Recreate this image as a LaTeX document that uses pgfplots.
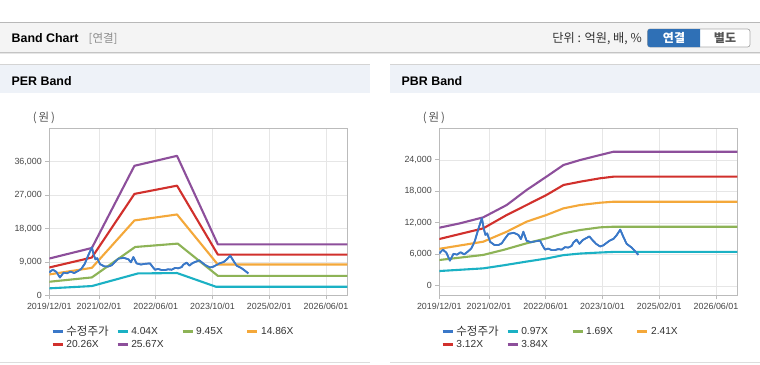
\documentclass[border=0pt]{standalone}
\usepackage{pgfplots}
\usepackage{pgfplotstable}
\pgfplotsset{compat=1.18}
\usepackage{fontspec}
\setmainfont{Liberation Sans}
\newfontfamily\kr{Noto Sans CJK KR}
\definecolor{cblue}{HTML}{3A78C8}
\definecolor{ccyan}{HTML}{1BB1C4}
\definecolor{cgreen}{HTML}{8DB356}
\definecolor{corange}{HTML}{F4A83A}
\definecolor{cred}{HTML}{D1302C}
\definecolor{cpurple}{HTML}{8D4F9B}
\definecolor{gridc}{HTML}{E6E6E6}
\definecolor{axc}{HTML}{BBBBBB}
\definecolor{txt}{HTML}{333333}
\definecolor{barbg}{HTML}{F4F4F4}
\definecolor{panbg}{HTML}{EEF2F8}
\definecolor{btnblue}{HTML}{2F70B6}
\definecolor{lnA}{HTML}{B8B8B8}
\definecolor{lnB}{HTML}{C4C4C4}
\definecolor{lnC}{HTML}{E6E6E6}
\definecolor{lnD}{HTML}{D4D4D4}
\definecolor{lnE}{HTML}{DDDDDD}
\definecolor{g8c}{HTML}{8C8C8C}
\definecolor{g55}{HTML}{555555}
\definecolor{gAA}{HTML}{AAAAAA}

\pgfplotstableread{
m v
0 6200
1 6900
2 6300
3 4800
4 6100
5 5950
6 6400
7 6000
8 6500
9 7100
10 8500
11 10800
12 12900
12.5 11000
13 9700
13.5 10000
14.3 8400
15.5 7800
16.6 7750
17.6 8100
18.5 9000
19.5 9900
21 10100
22.3 9700
23 8900
23.7 10300
24.6 8600
25.8 8300
27.2 8500
28.4 8600
29 7800
29.8 6900
30.7 7100
31.7 6800
32.6 6800
33.5 7000
34.5 6900
35.4 7350
36.4 7300
37.3 7600
37.8 8250
38.7 8800
39.5 8000
40.4 8700
41.3 9050
42.3 9400
43.2 8700
44.2 8000
45.3 7500
46.2 7700
47 8100
48 8600
49.1 8950
50 9650
51 10700
51.9 9300
52.8 8000
54.2 7300
55.2 6600
56.1 5900
}\price

\pgfplotsset{
  bandax/.style={
    scale only axis, width=298pt, height=167pt,
    anchor=south west,
    xmin=0, xmax=84,
    xtick={0,14,30,46,62,78},
    xticklabels={2019/12/01,2021/02/01,2022/06/01,2023/10/01,2025/02/01,2026/06/01},
    xtick pos=bottom, ytick pos=left,
    tick align=outside, major tick length=4pt,
    major tick style={draw=axc, line width=0.8pt},
    axis line style={draw=axc, line width=0.8pt},
    grid=major, major grid style={draw=gridc, line width=0.6pt},
    ticklabel style={font=\fontsize{8.9}{10}\selectfont, text=txt!90},
    /pgf/number format/assume math mode=true,
    /pgf/number format/.cd, 1000 sep={,}, /pgfplots/.cd,
    scaled y ticks=false,
    legend cell align=left,
    legend columns=4,
    legend style={draw=none, fill=none, at={(0,0)}, anchor=north west,
      xshift=2pt, yshift=-29.5pt, font=\fontsize{10.2}{11}\selectfont, text=txt,
      inner sep=0pt, row sep=1.2pt,
      nodes={inner sep=1pt, inner xsep=2.5pt, text width=47.5pt, align=left},
      /tikz/every even column/.append style={column sep=0pt}},
    legend image code/.code={\draw[line width=2.4pt] (0pt,0pt) -- (10pt,0pt);},
    every axis plot/.append style={line width=2.1pt, mark=none, line join=round},
  }
}

\begin{document}
\begin{tikzpicture}[x=1pt,y=1pt]
\path[use as bounding box] (0,0) rectangle (760,-364);
\fill[white] (0,0) rectangle (760,-364);
% top header bar
\fill[barbg] (0,-22.3) rectangle (760,-52);
\draw[lnA, line width=0.8pt] (0,-22.3) -- (760,-22.3);
\draw[lnB, line width=1pt] (0,-52.3) -- (760,-52.3);
\draw[lnC, line width=1pt] (0,-53.5) -- (760,-53.5);
\node[anchor=west, inner sep=0pt, font=\bfseries\fontsize{12.4}{14}\selectfont, text=black] at (11.5,-38.3) {Band Chart};
\node[anchor=west, inner sep=0pt, font=\kr\fontsize{11.5}{13}\selectfont, text=g8c] at (88.5,-38.3) {[연결]};
\node[anchor=east, inner sep=0pt, font=\kr\fontsize{12.2}{14}\selectfont, text=txt] at (642,-38.6) {단위 : 억원, 배, \%};
% buttons
\draw[gAA, fill=white, rounded corners=2.5pt, line width=0.7pt] (647.5,-29) rectangle (750,-47);
\begin{scope}
\clip (646,-26) rectangle (700,-50);
\fill[btnblue, rounded corners=2.5pt] (647.5,-29) rectangle (712,-47);
\end{scope}
\node[font=\kr\bfseries\fontsize{12}{14}\selectfont, text=white, inner sep=0pt] at (674,-38.3) {연결};
\node[font=\kr\bfseries\fontsize{12}{14}\selectfont, text=g55, inner sep=0pt] at (725,-38.3) {별도};
% panel headers
\fill[panbg] (0,-64) rectangle (370,-92.7);
\draw[lnD, line width=0.8pt] (0,-64) -- (370,-64);
\fill[panbg] (390,-64) rectangle (760,-92.7);
\draw[lnD, line width=0.8pt] (390,-64) -- (760,-64);
\node[anchor=west, inner sep=0pt, font=\bfseries\fontsize{12.4}{14}\selectfont, text=black] at (11.5,-80.7) {PER Band};
\node[anchor=west, inner sep=0pt, font=\bfseries\fontsize{12.4}{14}\selectfont, text=black] at (401.5,-80.7) {PBR Band};
\draw[lnE, line width=1pt] (0,-362.5) -- (370,-362.5);
\draw[lnE, line width=1pt] (390,-362.5) -- (760,-362.5);
% unit labels
\node[font=\kr\fontsize{11.5}{13}\selectfont, text=g55, inner sep=0pt] at (44,-118) {(\,원\,)};
\node[font=\kr\fontsize{11.5}{13}\selectfont, text=g55, inner sep=0pt] at (434,-118) {(\,원\,)};

% PER band
\begin{axis}[bandax, at={(49.3pt,-295.3pt)},
  ymin=0, ymax=45000, ytick={0,9000,18000,27000,36000}]
\addplot[cblue, line width=1.7pt] table[x=m,y=v] {\price};
\addlegendentry{{\kr\fontsize{11.5}{11}\selectfont 수정주가}}
\addplot[ccyan] coordinates {(0,1875) (12,2490) (25,5890) (36,6000) (47,2300) (84,2300)};
\addlegendentry{4.04X}
\addplot[cgreen] coordinates {(0,3650) (12,4820) (24.2,13020) (36.2,13930) (47.5,5250) (84,5250)};
\addlegendentry{9.45X}
\addplot[corange] coordinates {(0,5625) (12,7400) (24,20170) (36,21780) (47.5,8300) (84,8300)};
\addlegendentry{14.86X}
\addplot[cred] coordinates {(0,7500) (12,10180) (24,27320) (36,29540) (47.5,10980) (84,10980)};
\addlegendentry{20.26X}
\addplot[cpurple] coordinates {(0,9910) (12,12750) (24,34900) (36,37580) (47.5,13740) (84,13740)};
\addlegendentry{25.67X}
\addplot[cblue, line width=1.7pt, forget plot] table[x=m,y=v] {\price};
\end{axis}

% PBR band
\begin{axis}[bandax, at={(439.3pt,-295.3pt)},
  ymin=-1800, ymax=30000, ytick={0,6000,12000,18000,24000}]
\addplot[cblue, line width=1.7pt] table[x=m,y=v] {\price};
\addlegendentry{{\kr\fontsize{11.5}{11}\selectfont 수정주가}}
\addplot[ccyan] coordinates {(0,2820) (12.4,3330) (18,3900) (24.6,4620) (30.2,5200) (35,5850) (39.7,6150) (45.3,6350) (49.1,6460) (84,6460)};
\addlegendentry{0.97X}
\addplot[cgreen] coordinates {(0,4920) (12.4,5890) (18,6830) (24.6,8100) (30.2,9050) (35,10000) (39.7,10630) (45.3,11140) (49.1,11260) (84,11260)};
\addlegendentry{1.69X}
\addplot[corange] coordinates {(0,7050) (12.4,8410) (19,10310) (24.6,12220) (30.2,13490) (35,14760) (39.7,15390) (45.3,15830) (49.1,16020) (84,16020)};
\addlegendentry{2.41X}
\addplot[cred] coordinates {(0,8920) (12.4,10950) (19,13490) (24.6,15390) (30.2,17300) (35,19200) (39.7,19830) (45.3,20480) (49.1,20790) (84,20790)};
\addlegendentry{3.12X}
\addplot[cpurple] coordinates {(0,11070) (5.8,11900) (12.4,13050) (19,15390) (24.6,18250) (30.2,20790) (35,23010) (39.7,23960) (45.3,24910) (49.1,25540) (84,25540)};
\addlegendentry{3.84X}
\addplot[cblue, line width=1.7pt, forget plot] table[x=m,y=v] {\price};
\end{axis}
\end{tikzpicture}
\end{document}
